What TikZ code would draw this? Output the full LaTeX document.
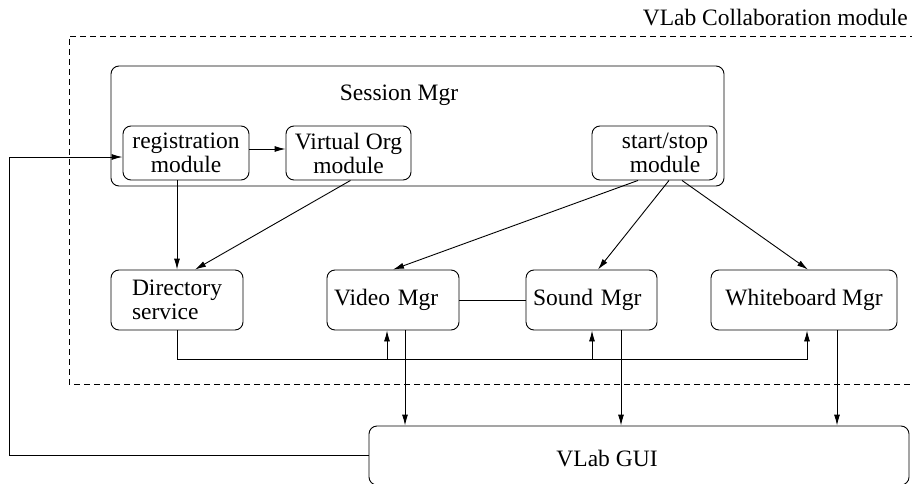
\documentclass[tikz,border=0pt]{standalone}
\usepackage{fontspec}
\setmainfont{Liberation Serif}
\usepackage{tikz}
\usetikzlibrary{arrows.meta}

\begin{document}
\begin{tikzpicture}[
		x=1pt,y=-1pt,
		every node/.style={font=\fontsize{23.5pt}{24pt}\selectfont},
		MyBoxes/.style={draw,rounded corners=8pt,inner sep=0pt,line width=0.9pt},
		MyModules/.style={MyBoxes,minimum width=126pt,minimum height=54pt,align=center},
		MyMgrs/.style={MyBoxes,minimum height=60pt},
		MyTexts/.style={inner sep=0pt},
		Wires/.style={line width=0.9pt},
		Arrows/.style={Wires,-{Latex[length=11pt,width=6pt]}}
		]
		\useasboundingbox (0,0) rectangle (912,484);
		\clip (0,0) rectangle (912,484);
		
		% collaboration module frame
		\draw[Wires,dash pattern=on 6pt off 4pt] (916,36) -- (69,36) -- (69,384) -- (916,384);
		\node[MyTexts,anchor=east] (collab) at (908,17.5) {VLab Collaboration module};
		
		\node[MyBoxes,minimum width=613pt,minimum height=120pt] (sessmgr) at (417.5,126) {};
		\node[MyTexts] (sesstext) at (399,95) {Session Mgr};
		
		\node[MyModules] (regmod) at (186,153) {registration\\module};
		\node[MyModules,minimum width=125pt] (vomod) at (348.5,153) {Virtual Org\\module};
		\node[MyModules,minimum width=125pt] (ssmod) at (654.5,153) {};
		\node[MyTexts,align=center] (sstext) at (665,153) {start/stop\\module};
		
		\node[MyMgrs,inner xsep=21pt,text width=90pt,align=left] (dirsvc) at (177,300) {Directory\\service};
		\node[MyMgrs,inner xsep=7pt,text width=118pt,align=left] (videomgr) at (393,300) {Video Mgr};
		\node[MyMgrs,inner xsep=7pt,text width=117pt,align=left] (soundmgr) at (591.5,300) {Sound Mgr};
		\node[MyMgrs,minimum width=186pt] (wbmgr) at (804,300) {Whiteboard Mgr};
		
		\node[MyBoxes,minimum width=540pt,minimum height=59pt] (gui) at (639,455.5) {};
		\node[MyTexts] (guitext) at (607,459) {VLab GUI};
		
		\coordinate (guiloop) at (9,455.5);
		\coordinate (busvideo) at (387,359);
		\coordinate (bussound) at (592,359);
		
		\draw[Arrows] (gui.west) -- (guiloop) |- ([yshift=-4pt]regmod.west);
		\draw[Arrows] ([yshift=4pt]regmod.east) -- ([yshift=4pt]vomod.west);
		
		\draw[Arrows] (regmod.south -| dirsvc.north) -- (dirsvc.north);
		\draw[Arrows] ([xshift=2pt]vomod.south) -- ([xshift=18pt]dirsvc.north);
		
		\draw[Arrows] ([xshift=-16.5pt]ssmod.south) -- (videomgr.north);
		\draw[Arrows] ([xshift=14.5pt]ssmod.south) -- ([xshift=6.5pt]soundmgr.north);
		\draw[Arrows] ([xshift=27.5pt]ssmod.south) -- ([xshift=4pt]wbmgr.north);
		
		\draw[Wires] (videomgr) -- (soundmgr);
		
		% directory bus
		\draw[Arrows] (dirsvc.south) -- ++(0,29) -| ([xshift=3pt]wbmgr.south);
		\draw[Arrows] (busvideo) -- (busvideo |- videomgr.south);
		\draw[Arrows] (bussound) -- (bussound |- soundmgr.south);
		
		\draw[Arrows] ([xshift=12pt]videomgr.south) -- ([xshift=12pt]videomgr.south |- gui.north);
		\draw[Arrows] ([xshift=29.5pt]soundmgr.south) -- ([xshift=29.5pt]soundmgr.south |- gui.north);
		\draw[Arrows] ([xshift=33pt]wbmgr.south) -- ([xshift=33pt]wbmgr.south |- gui.north);
		
\end{tikzpicture}
\end{document}
